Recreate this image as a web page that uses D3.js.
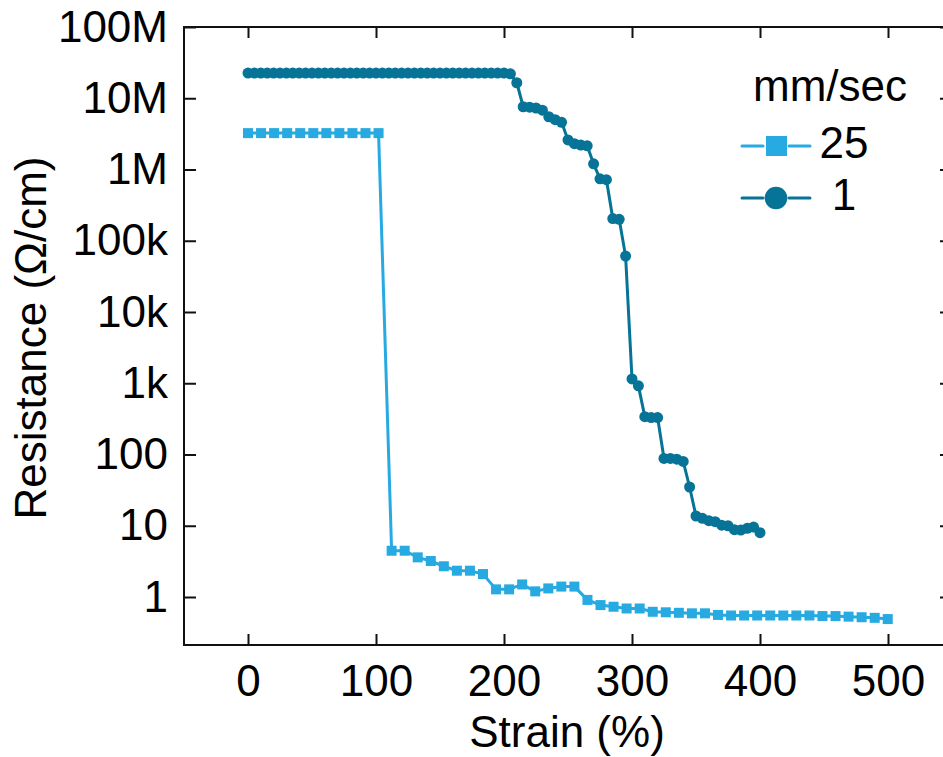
<!DOCTYPE html>
<html>
<head>
<meta charset="utf-8">
<script src="https://cdn.jsdelivr.net/npm/d3@7"></script>
<style>
body{margin:0;background:#fff}
text{font-family:"Liberation Sans",Arial,sans-serif;fill:#000}
</style>
</head>
<body>
<svg id="chart" width="943" height="757"></svg>
<script>
// 25 mm/sec series (squares)
var strainFast=[0,10.2,20.4,30.6,40.8,51,61.2,71.4,81.6,91.8,102,
  112.2,122.4,132.6,142.8,153,163.2,173.4,183.6,193.8,204,
  214.2,224.4,234.6,244.8,255,265.2,275.4,285.6,295.8,306,
  316.2,326.4,336.6,346.8,357,367.2,377.4,387.6,397.8,408,
  418.2,428.4,438.6,448.8,459,469.2,479.4,489.6,499.8];
var resFast=[3.24e6,3.24e6,3.24e6,3.24e6,3.24e6,3.24e6,3.24e6,3.24e6,3.24e6,3.24e6,3.24e6,
  4.46,4.46,3.6,3.2,2.7,2.34,2.34,2.1,1.28,1.28,
  1.5,1.2,1.32,1.4,1.4,0.91,0.77,0.73,0.69,0.69,
  0.62,0.61,0.60,0.59,0.59,0.56,0.55,0.55,0.55,0.55,
  0.55,0.55,0.55,0.54,0.54,0.53,0.52,0.51,0.49];

// 1 mm/sec series (circles)
var strainSlow=[0,5,10,15,20,25,30,35,40,45,50,55,60,65,70,75,80,85,90,95,
  100,105,110,115,120,125,130,135,140,145,150,155,160,165,170,175,180,185,190,195,
  200,205,210,215,220,225,230,235,240,245,250,255,260,265,270,275,280,285,290,295,
  300,305,310,315,320,325,330,335,340,345,350,355,360,365,370,375,380,385,390,395,400];
var resSlow=[2.26e7,2.26e7,2.26e7,2.26e7,2.26e7,2.26e7,2.26e7,2.26e7,2.26e7,2.26e7,
  2.26e7,2.26e7,2.26e7,2.26e7,2.26e7,2.26e7,2.26e7,2.26e7,2.26e7,2.26e7,
  2.26e7,2.26e7,2.26e7,2.26e7,2.26e7,2.26e7,2.26e7,2.26e7,2.26e7,2.26e7,
  2.26e7,2.26e7,2.26e7,2.26e7,2.26e7,2.26e7,2.26e7,2.26e7,2.26e7,2.26e7,
  2.26e7,2.2e7,1.65e7,7.6e6,7.5e6,7.3e6,6.8e6,5.5e6,5.0e6,4.6e6,
  2.6e6,2.3e6,2.2e6,2.15e6,1.2e6,7.4e5,7.2e5,2.05e5,2.0e5,6.1e4,
  1150,920,340,330,330,88,88,86,80,35,
  13.7,12.7,11.8,11.4,10.2,10,8.8,8.7,9.2,9.6,8.0];

var xTicks=[0,100,200,300,400,500];
var yTicks=[1,10,100,1e3,1e4,1e5,1e6,1e7,1e8];
var yTickLabels=["1","10","100","1k","10k","100k","1M","10M","100M"];
var seriesNames=["25","1"];
var legendTitle="mm/sec";

var colFast="#27aae1";
var colSlow="#067397";

draw();

function draw(){
  var svg=d3.select("#chart");
  var pl=184, pr=952, pt=27, pb=645;
  var fs="44px";

  var x=d3.scaleLinear().domain([-50,550]).range([pl,pr]);
  var y=d3.scaleLog().domain([0.212,1e8]).range([pb,pt]);

  function fmtY(d){ return yTickLabels[yTicks.indexOf(d)]; }

  // axes, ticks pointing inward on all four sides
  var gx=svg.append("g").attr("transform","translate(0,"+pb+")")
    .call(d3.axisBottom(x).tickValues(xTicks).tickSize(-11).tickSizeOuter(0).tickPadding(20));
  var gy=svg.append("g").attr("transform","translate("+pl+",0)")
    .call(d3.axisLeft(y).tickValues(yTicks).tickFormat(fmtY).tickSize(-12).tickSizeOuter(0).tickPadding(16));
  var gt=svg.append("g").attr("transform","translate(0,"+pt+")")
    .call(d3.axisTop(x).tickValues(xTicks).tickFormat("").tickSize(-11).tickSizeOuter(0));
  var gr=svg.append("g").attr("transform","translate("+pr+",0)")
    .call(d3.axisRight(y).tickValues(yTicks).tickFormat("").tickSize(-12).tickSizeOuter(0));

  [gx,gy,gt,gr].forEach(function(g){
    g.select(".domain").remove();
    g.selectAll(".tick line").attr("stroke","#111").attr("stroke-width",2);
    g.selectAll(".tick text").style("font-size",fs).attr("fill","#000");
  });

  svg.append("rect").attr("x",pl).attr("y",pt)
    .attr("width",pr-pl).attr("height",pb-pt)
    .attr("fill","none").attr("stroke","#111").attr("stroke-width",2);

  // axis titles
  svg.append("text").attr("x",(pl+pr)/2-1).attr("y",747)
    .attr("text-anchor","middle").style("font-size",fs).text("Strain (%)");
  svg.append("text").attr("transform","translate(46,"+((pt+pb)/2+2)+") rotate(-90)")
    .attr("text-anchor","middle").style("font-size",fs).text("Resistance (\u03A9/cm)");

  var fast=strainFast.map(function(s,i){ return {x:s,y:resFast[i]}; });
  var slow=strainSlow.map(function(s,i){ return {x:s,y:resSlow[i]}; });

  var line=d3.line().x(function(d){return x(d.x);}).y(function(d){return y(d.y);});

  svg.append("path").datum(fast).attr("d",line)
    .attr("fill","none").attr("stroke",colFast).attr("stroke-width",3);
  svg.selectAll("rect.sq").data(fast).enter().append("rect").attr("class","sq")
    .attr("x",function(d){return x(d.x)-5;}).attr("y",function(d){return y(d.y)-5;})
    .attr("width",10).attr("height",10).attr("fill",colFast);

  svg.append("path").datum(slow).attr("d",line)
    .attr("fill","none").attr("stroke",colSlow).attr("stroke-width",3);
  svg.selectAll("circle.dot").data(slow).enter().append("circle").attr("class","dot")
    .attr("cx",function(d){return x(d.x);}).attr("cy",function(d){return y(d.y);})
    .attr("r",5.5).attr("fill",colSlow);

  // legend
  var lg=svg.append("g");
  lg.append("text").attr("x",830).attr("y",101).attr("text-anchor","middle")
    .style("font-size",fs).text(legendTitle);

  var rows=[{y:146,c:colFast,shape:"sq"},{y:198,c:colSlow,shape:"dot"}];
  rows.forEach(function(r,i){
    lg.append("line").attr("x1",742).attr("x2",763).attr("y1",r.y).attr("y2",r.y)
      .attr("stroke",r.c).attr("stroke-width",3).attr("stroke-linecap","round");
    lg.append("line").attr("x1",789).attr("x2",810).attr("y1",r.y).attr("y2",r.y)
      .attr("stroke",r.c).attr("stroke-width",3).attr("stroke-linecap","round");
    if(r.shape=="sq"){
      lg.append("rect").attr("x",766).attr("y",r.y-10).attr("width",21).attr("height",20).attr("fill",r.c);
    } else {
      lg.append("circle").attr("cx",776).attr("cy",r.y).attr("r",11.3).attr("fill",r.c);
    }
    lg.append("text").attr("x",844).attr("y",r.y+12).attr("text-anchor","middle")
      .style("font-size",fs).text(seriesNames[i]);
  });
}
</script>
</body>
</html>
